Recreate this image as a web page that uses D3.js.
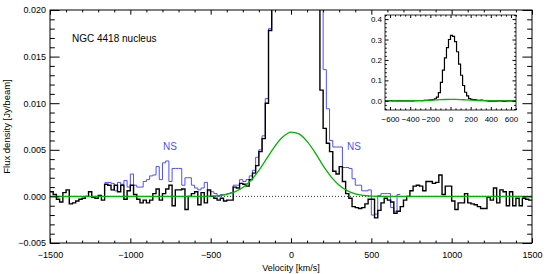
<!DOCTYPE html>
<html><head><meta charset="utf-8">
<script src="https://cdn.jsdelivr.net/npm/d3@7"></script>
<style>
body{margin:0;background:#fff;}
text{font-family:"Liberation Sans",Arial,Helvetica,sans-serif;}
</style></head>
<body><svg id="c" width="548" height="274"></svg>
<script>
// ---- data ----
const chanEdgeStart = -1500, chanWidth = 20;           // channel grid (km/s)
const blackFlux = [
 0.0005,0.0002,-0.0003,-0.0006,0.0004,0.0007,-0.0008,-0.0007,-0.0005,-0.0003,
 -0.0002,0.0000,0.0005,-0.0001,-0.0002,0.0001,-0.0004,0.0013,0.0012,0.0007,
 0.0012,0.0005,0.0012,-0.0003,0.0006,0.0012,0.0002,-0.0003,-0.0007,-0.0004,
 -0.0007,-0.0004,0.0003,0.0008,-0.0004,0.0003,0.0008,0.0012,-0.0010,0.0007,
 0.0007,0.0008,-0.0014,0.0000,0.0003,0.0005,-0.0009,0.0004,-0.0007,0.0007,
 0.0000,-0.0002,-0.0004,-0.0002,-0.0005,-0.0004,-0.0004,0.0010,0.0009,0.0014,
 0.0013,0.0011,0.0018,0.0025,0.0033,0.0048,0.0062,0.0100,0.0178,0.040,
 0.090,0.150,0.210,0.260,0.300,0.320,0.315,0.290,0.240,0.180,
 0.125,0.075,0.042,0.024,0.0114,0.0073,0.0057,0.0048,0.0027,0.0024,
 0.0032,0.0016,0.0003,-0.0002,-0.0011,-0.0012,-0.0013,-0.0012,-0.0008,-0.0003,
 -0.0003,-0.0023,-0.0015,-0.0007,-0.0002,-0.0004,-0.0006,-0.0018,-0.0016,-0.0011,
 -0.0004,0.0000,0.0006,0.0011,0.0012,0.0011,0.0006,0.0016,0.0016,0.0014,
 0.0015,0.0023,0.0002,0.0011,0.0011,-0.0005,-0.0014,-0.0007,-0.0007,0.0003,
 -0.0007,-0.0008,-0.0009,-0.0011,-0.0013,-0.0013,-0.0001,-0.0004,0.0009,-0.0007,
 0.0007,0.0005,-0.0010,0.0005,-0.0010,-0.0002,-0.0010,-0.0002,-0.0003,-0.0004
];
const blueStartVel = -1160;
const blueFlux = [
 0.0015,0.0015,0.0014,
 0.0006,0.0015,0.0013,0.0017,0.0010,0.0024,0.0012,0.0010,0.0010,0.0016,
 0.0018,0.0022,0.0023,0.0032,0.0018,0.0036,0.0038,0.0016,0.0030,0.0030,
 0.0030,0.0012,0.0020,0.0020,0.0012,0.0009,0.0007,0.0009,0.0015,0.0006,
 0.0005,0.0003,0.0000,0.0002,0.0002,0.0003,0.0004,0.0012,0.0012,0.0018,
 0.0016,0.0018,0.0022,0.0028,0.0042,0.0050,0.0065,0.0105,0.0180,0.040,
 0.090,0.150,0.210,0.260,0.300,0.320,0.315,0.290,0.240,0.180,
 0.125,0.075,0.045,0.030,0.022,0.0136,0.0094,0.0060,0.0053,0.0053,
 0.0053,0.0031,0.0031,0.0030,0.0019,0.0012,0.0012,0.0006,0.0006,0.0007,
 -0.0020,-0.0019,0.0001,0.0003,0.0003,0.0003,-0.0012,-0.0016,0.0002
];
const greenVel  = [-1500,-600,-500,-450,-400,-350,-300,-250,-200,-150,-100,-50,0,50,100,150,200,250,300,350,400,450,500,600,1500];
const greenFlux = [0,0,0.00003,0.00009,0.00022,0.00048,0.00095,0.0017,0.0028,0.0041,0.0054,0.0064,0.0069,0.0067,0.0059,0.0047,0.0033,0.0021,0.0012,0.00062,0.00028,0.00011,0.00004,0,0];
const xTicks = [-1500,-1000,-500,0,500,1000,1500];
const yTicks = [-0.005,0,0.005,0.010,0.015,0.020];
const insetXTicks = [-600,-400,-200,0,200,400,600];
const insetYTicks = [0,0.1,0.2,0.3,0.4];
const titleText = "NGC 4418 nucleus";
const nsLabel = "NS";

// ---- layout ----
const svg = d3.select("#c");
const X0=50,X1=532,Y0=10,Y1=243;
const x = d3.scaleLinear().domain([-1500,1500]).range([X0,X1]);
const y = d3.scaleLinear().domain([-0.005,0.020]).range([Y1,Y0]);
const minus = s => s.replace("-","\u2212");

function stepPts(start, arr){
  const p = arr.map((v,i)=>[start+i*chanWidth, v]);
  p.push([start+arr.length*chanWidth, arr[arr.length-1]]);
  return p;
}
const blackPts = stepPts(chanEdgeStart, blackFlux);
const bluePts = stepPts(blueStartVel, blueFlux);
const greenPts = greenVel.map((v,i)=>[v, greenFlux[i]]);

const defs = svg.append("defs");
defs.append("clipPath").attr("id","mainclip").append("rect")
  .attr("x",X0).attr("y",Y0).attr("width",X1-X0).attr("height",Y1-Y0);

const plot = svg.append("g").attr("clip-path","url(#mainclip)");
plot.append("line").attr("x1",X0).attr("x2",X1).attr("y1",y(0)).attr("y2",y(0))
  .attr("stroke","#000").attr("stroke-width",0.8).attr("stroke-dasharray","1,2");
const stepLine = (sx,sy)=>d3.line().x(d=>sx(d[0])).y(d=>sy(d[1])).curve(d3.curveStepAfter);
plot.append("path").attr("d",stepLine(x,y)(bluePts)).attr("fill","none")
  .attr("stroke","#4f4fff").attr("stroke-width",1);
plot.append("path").attr("d",stepLine(x,y)(blackPts)).attr("fill","none")
  .attr("stroke","#000").attr("stroke-width",1.4);
const smooth = (sx,sy)=>d3.line().x(d=>sx(d[0])).y(d=>sy(d[1])).curve(d3.curveMonotoneX);
plot.append("path").attr("d",smooth(x,y)(greenPts)).attr("fill","none")
  .attr("stroke","#00b400").attr("stroke-width",1.3);

// axes
const fs = "9px";
function styleAxis(g){ g.select(".domain").remove(); g.selectAll("line").attr("stroke","#000"); g.selectAll("text").attr("font-size",fs).attr("fill","#000"); }
const xMinor = d3.range(-1500,1501,100).filter(v=>v%500!==0);
const yMinor = d3.range(-5,21,1).filter(v=>v%5!==0).map(v=>v/1000);
// bottom
svg.append("g").attr("transform",`translate(0,${Y1})`)
  .call(d3.axisBottom(x).tickValues(xTicks).tickSizeInner(-4.7).tickSizeOuter(0).tickPadding(9).tickFormat(d=>minus(String(d))))
  .call(styleAxis);
svg.append("g").attr("transform",`translate(0,${Y1})`)
  .call(d3.axisBottom(x).tickValues(xMinor).tickSizeInner(-2.4).tickSizeOuter(0).tickFormat(""))
  .call(styleAxis);
// top
svg.append("g").attr("transform",`translate(0,${Y0})`)
  .call(d3.axisTop(x).tickValues(xTicks).tickSizeInner(-4.7).tickSizeOuter(0).tickFormat(""))
  .call(styleAxis);
svg.append("g").attr("transform",`translate(0,${Y0})`)
  .call(d3.axisTop(x).tickValues(xMinor).tickSizeInner(-2.4).tickSizeOuter(0).tickFormat(""))
  .call(styleAxis);
// left
svg.append("g").attr("transform",`translate(${X0},0)`)
  .call(d3.axisLeft(y).tickValues(yTicks).tickSizeInner(-9.6).tickSizeOuter(0).tickPadding(4).tickFormat(d=>minus(d3.format(".3f")(d))))
  .call(styleAxis);
svg.append("g").attr("transform",`translate(${X0},0)`)
  .call(d3.axisLeft(y).tickValues(yMinor).tickSizeInner(-4.8).tickSizeOuter(0).tickFormat(""))
  .call(styleAxis);
// right
svg.append("g").attr("transform",`translate(${X1},0)`)
  .call(d3.axisRight(y).tickValues(yTicks).tickSizeInner(-9.6).tickSizeOuter(0).tickFormat(""))
  .call(styleAxis);
svg.append("g").attr("transform",`translate(${X1},0)`)
  .call(d3.axisRight(y).tickValues(yMinor).tickSizeInner(-4.8).tickSizeOuter(0).tickFormat(""))
  .call(styleAxis);
svg.append("rect").attr("x",X0).attr("y",Y0).attr("width",X1-X0).attr("height",Y1-Y0)
  .attr("fill","none").attr("stroke","#000").attr("stroke-width",1);

svg.append("text").attr("x",(X0+X1)/2).attr("y",271).attr("text-anchor","middle")
  .attr("font-size","9px").text("Velocity [km/s]");
svg.append("text").attr("transform",`translate(10,${(Y0+Y1)/2}) rotate(-90)`).attr("text-anchor","middle")
  .attr("font-size","9.5px").text("Flux density [Jy/beam]");
svg.append("text").attr("x",72).attr("y",42).attr("font-size","10px").text(titleText);
svg.append("text").attr("x",170).attr("y",150).attr("text-anchor","middle").attr("font-size","10px").attr("fill","#4f4fff").text(nsLabel);
svg.append("text").attr("x",354).attr("y",150).attr("text-anchor","middle").attr("font-size","10px").attr("fill","#4f4fff").text(nsLabel);

// ---- inset ----
const IX0=385,IX1=516,IY0=15,IY1=110;
const xi = d3.scaleLinear().domain([-650,650]).range([IX0,IX1]);
const yi = d3.scaleLinear().domain([-0.045,0.42]).range([IY1,IY0]);
svg.append("rect").attr("x",IX0).attr("y",IY0).attr("width",IX1-IX0).attr("height",IY1-IY0).attr("fill","#fff");
defs.append("clipPath").attr("id","insclip").append("rect")
  .attr("x",IX0).attr("y",IY0).attr("width",IX1-IX0).attr("height",IY1-IY0);
const ins = svg.append("g").attr("clip-path","url(#insclip)");
ins.append("path").attr("d",stepLine(xi,yi)(blackPts)).attr("fill","none").attr("stroke","#000").attr("stroke-width",1.2);
ins.append("path").attr("d",smooth(xi,yi)(greenPts)).attr("fill","none").attr("stroke","#00b400").attr("stroke-width",1.3);
const fsi="8px";
function styleI(g){ g.select(".domain").remove(); g.selectAll("line").attr("stroke","#000"); g.selectAll("text").attr("font-size",fsi).attr("fill","#000"); }
const ixMinor = d3.range(-650,651,50).filter(v=>v%200!==0);
const iyMinor = d3.range(-4,43,2).filter(v=>v%10!==0).map(v=>v/100);
svg.append("g").attr("transform",`translate(0,${IY1})`)
  .call(d3.axisBottom(xi).tickValues(insetXTicks).tickSizeInner(-3).tickSizeOuter(0).tickPadding(6).tickFormat(d=>minus(String(d)))).call(styleI);
svg.append("g").attr("transform",`translate(0,${IY1})`)
  .call(d3.axisBottom(xi).tickValues(ixMinor).tickSizeInner(-1.6).tickSizeOuter(0).tickFormat("")).call(styleI);
svg.append("g").attr("transform",`translate(0,${IY0})`)
  .call(d3.axisTop(xi).tickValues(insetXTicks).tickSizeInner(-3).tickSizeOuter(0).tickFormat("")).call(styleI);
svg.append("g").attr("transform",`translate(0,${IY0})`)
  .call(d3.axisTop(xi).tickValues(ixMinor).tickSizeInner(-1.6).tickSizeOuter(0).tickFormat("")).call(styleI);
svg.append("g").attr("transform",`translate(${IX0},0)`)
  .call(d3.axisLeft(yi).tickValues(insetYTicks).tickSizeInner(-3.5).tickSizeOuter(0).tickPadding(3).tickFormat(d3.format(".1f"))).call(styleI);
svg.append("g").attr("transform",`translate(${IX0},0)`)
  .call(d3.axisLeft(yi).tickValues(iyMinor).tickSizeInner(-1.8).tickSizeOuter(0).tickFormat("")).call(styleI);
svg.append("g").attr("transform",`translate(${IX1},0)`)
  .call(d3.axisRight(yi).tickValues(insetYTicks).tickSizeInner(-3.5).tickSizeOuter(0).tickFormat("")).call(styleI);
svg.append("g").attr("transform",`translate(${IX1},0)`)
  .call(d3.axisRight(yi).tickValues(iyMinor).tickSizeInner(-1.8).tickSizeOuter(0).tickFormat("")).call(styleI);
svg.append("rect").attr("x",IX0).attr("y",IY0).attr("width",IX1-IX0).attr("height",IY1-IY0)
  .attr("fill","none").attr("stroke","#000").attr("stroke-width",0.8);
</script></body></html>
